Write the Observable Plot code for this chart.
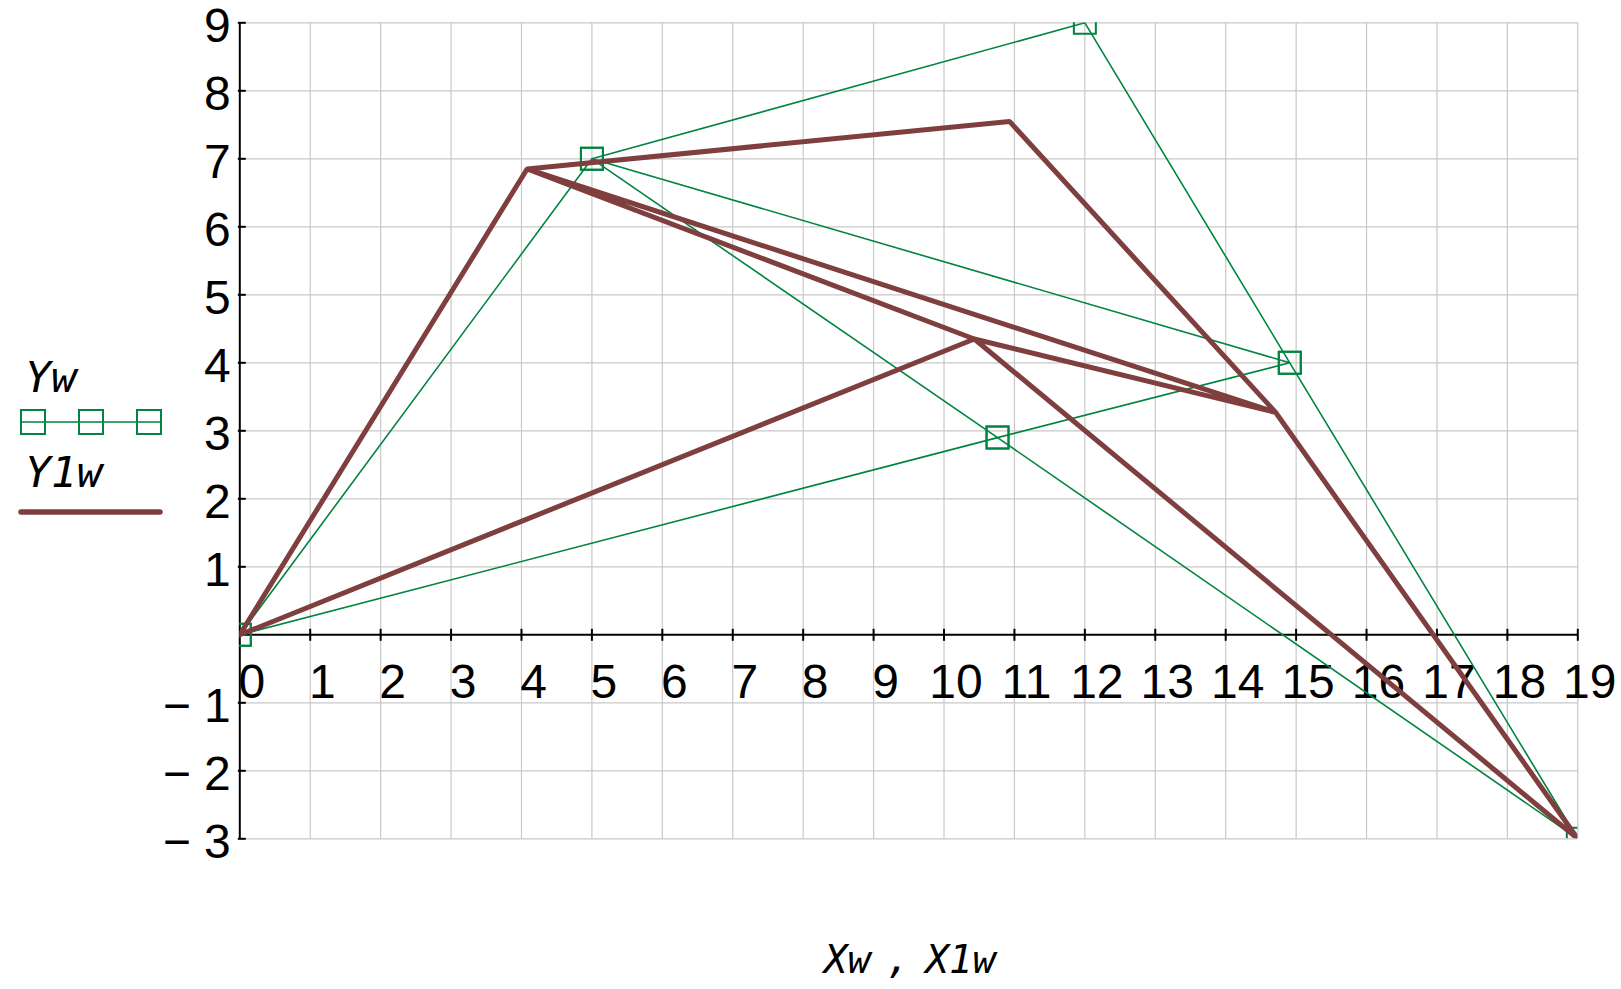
<!DOCTYPE html>
<html><head><meta charset="utf-8">
<script src="https://cdn.jsdelivr.net/npm/d3@7"></script>
<script src="https://cdn.jsdelivr.net/npm/@observablehq/plot@0.6"></script>
<style>body{margin:0;background:#fff;} svg{display:block;}</style>
</head><body><div id="chart"></div>
<script>
// Truss node coordinates (undeformed Xw/Yw and deformed X1w/Y1w)
const xw  = [0, 5, 12, 14.91, 10.76, 19];
const yw  = [0, 7, 9, 4.0, 2.9, -3];
const x1w = [0, 4.08, 10.93, 14.71, 10.43, 19];
const y1w = [0, 6.85, 7.55, 3.27, 4.35, -3];
// order in which nodes are traversed by the plotted vectors
const nodeOrder = [0, 1, 2, 3, 5, 4, 1, 3, 4, 0];
const xTicks = [0,1,2,3,4,5,6,7,8,9,10,11,12,13,14,15,16,17,18,19];
const yTicks = [-3,-2,-1,1,2,3,4,5,6,7,8,9];
const yGrid = [-3,-2,-1,1,2,3,4,5,6,7,8,9];
const xGrid = [1,2,3,4,5,6,7,8,9,10,11,12,13,14,15,16,17,18,19];
const seriesNames = ["Yw", "Y1w"];
const axisLabel = "Xw , X1w";

const GREEN = "#00843f";
const BROWN = "#7f3f3f";

const green = nodeOrder.map(i => ({x: xw[i], y: yw[i]}));
const brown = nodeOrder.map(i => ({x: x1w[i], y: y1w[i]}));

const vTick = {draw(ctx, size) { const h = Math.sqrt(size / Math.PI); ctx.moveTo(0, -h); ctx.lineTo(0, h); }};
const hTick = {draw(ctx, size) { const h = Math.sqrt(size / Math.PI); ctx.moveTo(-h + 2, 0); ctx.lineTo(h + 2, 0); }};
const fmt = v => v < 0 ? "\u2212 " + Math.abs(v) : String(v);

const chart = Plot.plot({
  width: 1621,
  height: 989,
  marginLeft: 239.3,
  marginRight: 43.7,
  marginTop: 22.3,
  marginBottom: 150.7,
  x: {domain: [0, 19], axis: null},
  y: {domain: [-3, 9], axis: null},
  style: {fontFamily: "'Liberation Sans', Arial, sans-serif", background: "white"},
  marks: [
    Plot.gridX(xGrid, {stroke: "#c8c8c8", strokeOpacity: 1, strokeWidth: 1.2}),
    Plot.gridY(yGrid, {stroke: "#c8c8c8", strokeOpacity: 1, strokeWidth: 1.2}),
    Plot.ruleX([0], {stroke: "black", strokeWidth: 2}),
    Plot.ruleY([0], {stroke: "black", strokeWidth: 2}),
    Plot.dot(xTicks.filter(d => d > 0), {x: d => d, y: 0, symbol: vTick, r: 6, stroke: "black", strokeWidth: 2}),
    Plot.dot(yTicks, {x: 0, y: d => d, symbol: hTick, r: 4, stroke: "black", strokeWidth: 2}),
    Plot.text(xTicks, {x: d => d, y: 0, text: d => String(d), dx: 12, dy: 48, fontSize: 48, fill: "black", textAnchor: "middle"}),
    Plot.text(yTicks, {x: 0, y: d => d, text: fmt, dx: -9, dy: 4, fontSize: 48, fill: "black", textAnchor: "end"}),
    Plot.line(green, {x: "x", y: "y", stroke: GREEN, strokeWidth: 1.6, clip: true, curve: "linear"}),
    Plot.dot(green, {x: "x", y: "y", symbol: "square", r: 12.4, stroke: GREEN, strokeWidth: 2, fill: "none", clip: true}),
    Plot.line(brown, {x: "x", y: "y", stroke: BROWN, strokeWidth: 5, strokeLinejoin: "miter", clip: true, curve: "linear"})
  ]
});
document.getElementById("chart").appendChild(chart);

// legend and axis title
const svg = d3.select(chart);
const mono = "'DejaVu Sans Mono', 'Liberation Mono', monospace";
const lg = svg.append("g").attr("text-anchor", "start");
lg.append("text").attr("x", 25).attr("y", 392).attr("font-family", mono).attr("font-style", "italic")
  .attr("font-size", 43).attr("fill", "black").attr("text-anchor", "start").text(seriesNames[0]);
lg.append("line").attr("x1", 21).attr("x2", 161).attr("y1", 422).attr("y2", 422).attr("stroke", GREEN).attr("stroke-width", 1.6);
[33, 91, 149].forEach(cx => lg.append("rect").attr("x", cx - 12).attr("y", 410).attr("width", 24).attr("height", 24)
  .attr("fill", "none").attr("stroke", GREEN).attr("stroke-width", 2));
lg.append("text").attr("x", 25).attr("y", 487).attr("font-family", mono).attr("font-style", "italic")
  .attr("font-size", 43).attr("fill", "black").attr("text-anchor", "start").text(seriesNames[1]);
lg.append("line").attr("x1", 21).attr("x2", 160).attr("y1", 512).attr("y2", 512).attr("stroke", BROWN)
  .attr("stroke-width", 5.5).attr("stroke-linecap", "round");
svg.append("text").attr("x", 910).attr("y", 973).attr("text-anchor", "middle").attr("font-family", mono)
  .attr("font-style", "italic").attr("font-size", 39).attr("word-spacing", "-8px").attr("fill", "black").text(axisLabel);
</script>
</body></html>
